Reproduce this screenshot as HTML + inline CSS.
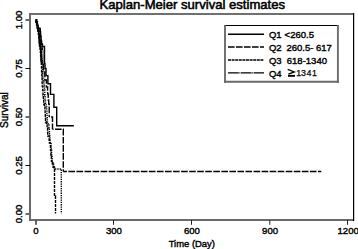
<!DOCTYPE html>
<html><head><meta charset="utf-8">
<style>
html,body{margin:0;padding:0;background:#fff;}
body{width:358px;height:249px;overflow:hidden;position:relative;}
svg{position:absolute;left:0;top:0;}
text{font-family:"Liberation Sans",sans-serif;fill:#000;stroke:#000;stroke-width:0.4px;}
</style></head><body>
<svg width="358" height="249" viewBox="0 0 358 249">
<text x="192.3" y="9" font-size="13.1" text-anchor="middle" style="stroke-width:0.55px">Kaplan-Meier survival estimates</text>
<g fill="none">
<line x1="29" y1="14" x2="353" y2="14" stroke="#707070" stroke-width="2"/>
<line x1="30" y1="13" x2="30" y2="221" stroke="#6a6a6a" stroke-width="2"/>
<line x1="29" y1="220" x2="354" y2="220" stroke="#6a6a6a" stroke-width="2"/>
<line x1="353.6" y1="13" x2="353.6" y2="221" stroke="#000" stroke-width="1.2"/>
<line x1="25.5" y1="20" x2="30" y2="20" stroke="#6a6a6a" stroke-width="2"/>
<line x1="25.5" y1="68.5" x2="30" y2="68.5" stroke="#000" stroke-width="1"/>
<line x1="25.5" y1="117" x2="30" y2="117" stroke="#6a6a6a" stroke-width="2"/>
<line x1="25.5" y1="165.5" x2="30" y2="165.5" stroke="#000" stroke-width="1"/>
<line x1="25.5" y1="214" x2="30" y2="214" stroke="#6a6a6a" stroke-width="2"/>
<line x1="36" y1="220" x2="36" y2="224.8" stroke="#555" stroke-width="1.8"/>
<g stroke="#222" stroke-width="1">
<line x1="113.5" y1="220" x2="113.5" y2="224.8"/>
<line x1="191.5" y1="220" x2="191.5" y2="224.8"/>
<line x1="269.8" y1="220" x2="269.8" y2="224.8"/>
<line x1="347.5" y1="220" x2="347.5" y2="224.8"/>
</g>
</g>
<g font-size="9.3" text-anchor="middle">
<text transform="translate(22.2,20) rotate(-90)" font-size="9.6">1.00</text>
<text transform="translate(22.2,68.5) rotate(-90)" font-size="9.6">0.75</text>
<text transform="translate(22.2,117) rotate(-90)" font-size="9.6">0.50</text>
<text transform="translate(22.2,165.5) rotate(-90)" font-size="9.6">0.25</text>
<text transform="translate(22.2,214) rotate(-90)" font-size="9.6">0.00</text>
<text transform="translate(7.9,110.1) rotate(-90)" font-size="10">Survival</text>
<g font-size="9.6">
<text x="36" y="234.2">0</text>
<text x="113.9" y="234.2">300</text>
<text x="191.9" y="234.2">600</text>
<text x="270.1" y="234.2">900</text>
<text x="348.2" y="234.2">1200</text>
</g>
<text x="191.8" y="247" font-size="9.45">Time (Day)</text>
</g>
<rect x="224" y="25" width="115" height="58" fill="#fff"/>
<g fill="none">
<line x1="224" y1="25.5" x2="339" y2="25.5" stroke="#000" stroke-width="1.1"/>
<line x1="225" y1="25" x2="225" y2="82.8" stroke="#6a6a6a" stroke-width="1.9"/>
<line x1="337.9" y1="25" x2="337.9" y2="82.8" stroke="#6a6a6a" stroke-width="1.9"/>
<line x1="224" y1="81.8" x2="338.9" y2="81.8" stroke="#6a6a6a" stroke-width="1.9"/>
</g>
<g stroke="#000" stroke-width="1.5" fill="none">
<line x1="228" y1="34.2" x2="264" y2="34.2"/>
<line x1="228" y1="47" x2="264" y2="47" stroke-dasharray="6.6,1.4"/>
<line x1="228" y1="60" x2="263.5" y2="60" stroke-width="1.3" stroke-dasharray="3,0.6"/>
<line x1="228" y1="72.9" x2="264" y2="72.9" stroke-width="1.3" stroke-dasharray="10.8,0.6,0.8,0.6"/>
</g>
<g font-size="9.5">
<text x="268.9" y="38">Q1</text><text x="284.6" y="38">&lt;260.5</text>
<text x="268.9" y="51">Q2</text><text x="286.4" y="51">260.5- 617</text>
<text x="268.9" y="63.8">Q3</text><text x="286.8" y="63.8">618-1340</text>
<text x="268.9" y="76.6">Q4</text><text x="296.3 300.9 306.4 312.1" y="76.1" style="stroke-width:0.25px" font-size="8.8">1341</text>
</g>
<path d="M287.7,69.4 L294.3,71.9 L288.4,74.1" fill="none" stroke="#000" stroke-width="1.3"/>
<rect x="288" y="74.9" width="7" height="1.9" fill="#000"/>
<g fill="none" stroke="#000" stroke-width="1.4">
<path d="M35.6,20.0 H36.3 V22.0 H36.9 V24.0 H37.5 V26.0 H38.0 V28.2 H39.9 V29.0 H40.3 V32.0 H40.6 V36.0 H41.1 V41.0 H41.6 V44.0 H42.5 V46.5 H44.5 V63.5 H45.0 V68.5 H46.0 V75.6 H47.9 V83.7 H50.5 V94.4 H53.9 V107.3 H56.7 V125.8 H73.8 V125.8"/>
<path stroke-dasharray="6.6,1.45" d="M35.7,20.0 H36.4 V22.5 H37.0 V25.0 H37.6 V28.0 H38.3 V31.0 H39.0 V34.0 H39.6 V37.0 H40.2 V40.0 H40.7 V43.0 H41.4 V46.0 H42.1 V49.0 H42.4 V50.0"/>
<path stroke-opacity="0.55" d="M43,50 V64.5"/>
<path stroke-width="1.7" d="M35.8,20.0 H36.4 V22.0 H37.0 V25.0 H37.6 V28.0 H38.2 V31.0 H38.7 V34.0 H39.1 V37.0 H39.4 V40.0 H39.6 V43.0 H39.9 V46.0 H40.5 V49.0 H40.8 V52.0 H41.0 V56.0 H41.2 V59.0 H41.5 V61.0 H41.8 V64.0"/>
<path stroke-dasharray="6.6,1.45" d="M43.0,64.5 H43.5 V72.0 H44.8 V80.0 H46.4 V87.0 H47.6 V94.0 H48.2 V100.0 H48.7 V104.0 H49.2 V109.0 H49.2 V117.0"/>
<path stroke-dasharray="6.6,1.45" stroke-dashoffset="6.25" d="M49.2,117 H52.5 V129.2"/>
<path stroke-dasharray="6.6,1.45" stroke-dashoffset="5.55" d="M52.5,129.2 H63.3 V171.5"/>
<path stroke-dasharray="6.6,1.45" stroke-dashoffset="2.95" d="M63.3,171.5 H321.3"/>
<path stroke-dasharray="3,1" d="M35.4,20.0 H36.0 V22.0 H36.6 V25.0 H37.2 V28.0 H37.9 V31.0 H38.4 V34.0 H38.8 V37.0 H39.0 V40.0 H39.2 V43.0 H39.5 V46.0 H40.1 V49.0 H40.4 V52.0 H40.6 V56.0 H40.9 V59.0 H41.0 V61.0 H41.3 V64.0 H41.5 V68.0 H41.6 V72.0 H41.8 V77.0 H42.1 V82.0 H42.2 V86.0 H42.7 V90.0 H43.0 V95.0 H43.3 V100.0 H43.7 V104.0 H44.3 V107.0 H44.9 V110.0 H45.1 V114.0 H45.3 V118.0 H45.5 V122.0 H46.3 V125.0 H47.1 V128.0 H47.6 V132.0 H47.7 V136.0 H49.1 V140.0 H49.4 V143.0 H50.4 V146.0 H50.5 V150.0 H50.9 V155.0 H51.4 V161.0 H52.0 V163.5 H52.9 V167.0 H54.5 V196 H55.5 V213.5"/>
<path stroke-dasharray="1.3,1" d="M36.1,20.0 H36.8 V22.0 H37.4 V25.0 H38.0 V28.0 H38.6 V31.0 H39.1 V34.0 H39.5 V37.0 H39.8 V40.0 H40.0 V43.0 H40.2 V46.0 H40.9 V49.0 H41.1 V52.0 H41.4 V56.0 H41.6 V59.0 H42.0 V61.0 H42.2 V64.0 H42.5 V68.0 H42.6 V72.0 H42.8 V77.0 H43.1 V82.0 H44.0 V86.0 H44.5 V90.0 H44.8 V95.0 H45.1 V100.0 H45.5 V104.0 H46.1 V107.0 H46.7 V110.0 H46.9 V114.0 H47.1 V118.0 H47.3 V122.0 H48.1 V125.0 H48.9 V128.0 H49.4 V132.0 H49.5 V136.0 H49.9 V140.0 H50.1 V143.0 H51.1 V146.0 H51.2 V150.0 H51.6 V155.0 H52.1 V161.0 H52.8 V163.5 H53.6 V167.0 H54.2 V169 H61.3 V213.5"/>
</g>
</svg>
</body></html>
